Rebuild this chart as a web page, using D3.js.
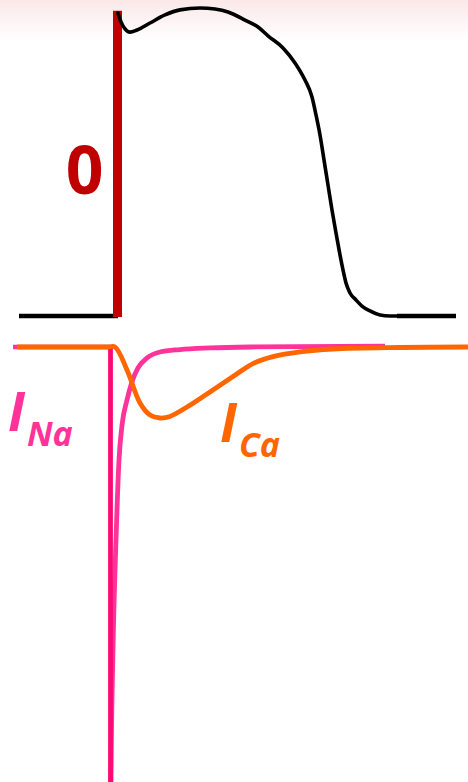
<!DOCTYPE html>
<html>
<head>
<meta charset="utf-8">
<script src="https://cdn.jsdelivr.net/npm/d3@7"></script>
<style>
  html, body { margin: 0; padding: 0; background: #fff; overflow: hidden; }
  svg { display: block; }
</style>
</head>
<body>
<script>
    // action potential (time in ms, membrane voltage in mV)
    const apTime = [2, 5, 9, 14, 21, 34, 49, 64, 84, 99, 112, 129, 142, 152, 167, 179, 189, 196, 200, 204, 208, 212, 216, 220, 224, 227, 230, 234, 240, 246, 254, 264, 274, 281];
    const apVoltage = [28.1, 24.8, 22.2, 21.0, 21.8, 24.4, 27.4, 29.3, 30.0, 29.6, 28.5, 25.5, 22.9, 19.6, 15.1, 9.5, 3.1, -3.2, -9.9, -17.4, -26.7, -36.1, -45.4, -54.0, -62.2, -67.8, -72.7, -76.4, -79.0, -81.3, -83.1, -84.6, -85, -85];
    const restLeft = [-97, 2];
    const restRight = [281, 340];
    const restVoltage = -85;
    const phase0 = { time: 1.5, from: -85.4, to: 29 };
    const phaseLabel = '0';

    // inward currents (arbitrary units)
    const naRestTime = [-103, -5.5];
    const naDropTime = -5.5;
    const naDropTo = -60;
    const naRecoveryTime = [-5.5, -5, -3, 0, 3, 6, 11, 16, 22, 31, 44, 64, 94, 134, 269];
    const naRecovery = [-60, -50, -34.8, -22.2, -13, -9, -6.1, -4, -2.4, -1.26, -0.57, -0.29, -0.11, 0, 0.11];

    const caTime = [-99, -8, -1, 11, 24, 34, 44, 54, 71, 91, 117, 137, 157, 184, 217, 284, 352];
    const caCurrent = [0, 0, 0, -2.64, -6.44, -7.82, -8.16, -7.98, -6.9, -5.4, -3.4, -1.9, -1.1, -0.55, -0.23, -0.06, 0];

    const labels = [
        { main: 'I', sub: 'Na', color: '#ff3399', time: -108, current: -9.6 },
        { main: 'I', sub: 'Ca', color: '#ff6600', time: 104, current: -10.9 }
    ];

    const measurements = { width: 468, height: 782 };

    const svg = d3.select('body')
        .append('svg')
        .attr('width', measurements.width)
        .attr('height', measurements.height);

    const x = d3.scaleLinear().domain([-100, 352]).range([16, 468]);
    const vScale = d3.scaleLinear().domain([-85, 30]).range([316, 8]);
    const iScale = d3.scaleLinear().domain([0, -50]).range([347, 782]);

    // faint pink band at the top
    const grad = svg.append('defs').append('linearGradient')
        .attr('id', 'topfade')
        .attr('x1', 0).attr('y1', 0).attr('x2', 0).attr('y2', 1);
    grad.append('stop').attr('offset', '0%').attr('stop-color', '#fbe8e9');
    grad.append('stop').attr('offset', '100%').attr('stop-color', '#ffffff');
    svg.append('rect')
        .attr('width', measurements.width)
        .attr('height', 40)
        .attr('fill', 'url(#topfade)');

    // resting baselines
    svg.selectAll('line.rest')
        .data([restLeft, restRight])
        .enter()
        .append('line')
        .attr('class', 'rest')
        .attr('x1', d => x(d[0]))
        .attr('x2', d => x(d[1]))
        .attr('y1', vScale(restVoltage))
        .attr('y2', vScale(restVoltage))
        .attr('stroke', '#000')
        .attr('stroke-width', 4.5);

    // phase 0 bar
    svg.append('line')
        .attr('x1', x(phase0.time)).attr('x2', x(phase0.time))
        .attr('y1', vScale(phase0.from)).attr('y2', vScale(phase0.to))
        .attr('stroke', '#c00000')
        .attr('stroke-width', 9);

    svg.append('text')
        .attr('x', 84.5)
        .attr('y', 194)
        .attr('text-anchor', 'middle')
        .attr('font-family', '"Open Sans", sans-serif')
        .attr('font-weight', 'bold')
        .attr('font-size', 66)
        .attr('fill', '#c00000')
        .text(phaseLabel);

    // action potential
    const apLine = d3.line()
        .x((d, i) => x(apTime[i]))
        .y(d => vScale(d))
        .curve(d3.curveMonotoneX);

    svg.append('path')
        .attr('d', apLine(apVoltage))
        .attr('fill', 'none')
        .attr('stroke', '#000')
        .attr('stroke-width', 3.6)
        .attr('stroke-linecap', 'round');

    // sodium current
    svg.append('line')
        .attr('x1', x(naRestTime[0])).attr('x2', x(naRestTime[1]))
        .attr('y1', iScale(0)).attr('y2', iScale(0))
        .attr('stroke', '#ff3399')
        .attr('stroke-width', 4.5);

    const naLine = d3.line()
        .x((d, i) => x(naRecoveryTime[i]))
        .y(d => iScale(d))
        .curve(d3.curveMonotoneX);

    svg.append('path')
        .attr('d', naLine(naRecovery))
        .attr('fill', 'none')
        .attr('stroke', '#ff3399')
        .attr('stroke-width', 4.8);

    svg.append('line')
        .attr('x1', x(naDropTime)).attr('x2', x(naDropTime))
        .attr('y1', iScale(0)).attr('y2', iScale(naDropTo))
        .attr('stroke', '#ff0a73')
        .attr('stroke-width', 4.8);

    // calcium current
    const caLine = d3.line()
        .x((d, i) => x(caTime[i]))
        .y(d => iScale(d))
        .curve(d3.curveCatmullRom.alpha(0.5));

    svg.append('path')
        .attr('d', caLine(caCurrent))
        .attr('fill', 'none')
        .attr('stroke', '#ff6600')
        .attr('stroke-width', 4.8);

    // current labels
    const lab = svg.selectAll('text.cur')
        .data(labels)
        .enter()
        .append('text')
        .attr('class', 'cur')
        .attr('x', d => x(d.time))
        .attr('y', d => iScale(d.current))
        .attr('font-family', '"Open Sans", sans-serif')
        .attr('font-weight', 'bold')
        .attr('font-style', 'italic')
        .attr('fill', d => d.color);

    lab.append('tspan')
        .attr('font-size', 53)
        .text(d => d.main);
    lab.append('tspan')
        .attr('font-size', 34)
        .attr('dx', 2)
        .attr('dy', 15)
        .text(d => d.sub);
</script>
</body>
</html>
